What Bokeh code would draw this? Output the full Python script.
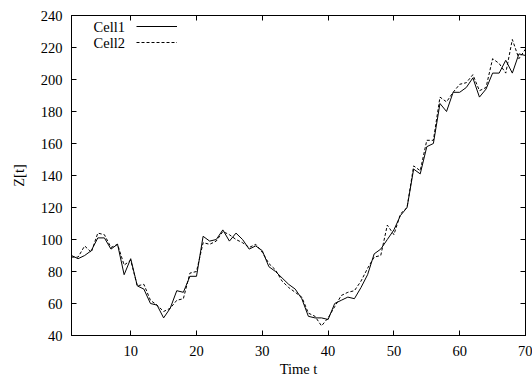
from bokeh.plotting import figure
from bokeh.models import (FixedTicker, LinearAxis, Legend, LegendItem, Label,
                          Range1d, GlobalInlineStyleSheet)
from bokeh.embed import file_html
from bokeh.resources import INLINE

# ---- data ----
t = list(range(1, 71))
cell1 = [90, 88, 90, 93, 101, 101, 94, 97, 78, 88,
         71, 69, 60, 59, 51, 57, 68, 67, 77, 77,
         102, 99, 100, 106, 99, 104, 100, 94, 96, 93,
         83, 80, 76, 72, 69, 63, 52, 51, 51, 50,
         60, 62, 64, 63, 70, 78, 91, 94, 100, 106,
         115, 120, 144, 141, 158, 160, 185, 180, 192, 192,
         195, 201, 189, 194, 204, 204, 212, 204, 216, 215]
cell2 = [89, 89, 96, 92, 104, 103, 95, 97, 84, 87,
         71, 72, 62, 59, 55, 57, 62, 63, 79, 80,
         98, 97, 99, 105, 103, 100, 98, 95, 97, 92,
         85, 81, 74, 70, 67, 64, 54, 52, 46, 51,
         58, 65, 67, 68, 74, 82, 89, 90, 109, 103,
         116, 120, 146, 143, 162, 162, 189, 186, 192, 197,
         198, 203, 193, 195, 213, 210, 204, 225, 213, 219]
series_names = ["Cell1", "Cell2"]
x_ticks = [10, 20, 30, 40, 50, 60, 70]
y_ticks = [40, 60, 80, 100, 120, 140, 160, 180, 200, 220, 240]

FONT = "Liberation Serif"
FS = "14.5px"

p = figure(width=532, height=382, output_backend="svg", toolbar_location=None,
           x_range=Range1d(1, 70), y_range=Range1d(40, 240),
           min_border_left=71, min_border_right=7, min_border_top=15,
           min_border_bottom=47,
           x_axis_label="Time t", y_axis_label="Z[t]")
p.stylesheets = [GlobalInlineStyleSheet(css="html, body { overflow: hidden; }")]
p.xgrid.visible = False
p.ygrid.visible = False
p.background_fill_color = "white"
p.border_fill_color = "white"
p.outline_line_color = "black"
p.outline_line_width = 1

def style_axis(ax, ticks, labels=True):
    ax.ticker = FixedTicker(ticks=ticks)
    ax.major_tick_in = 5
    ax.major_tick_out = 0
    ax.minor_tick_line_color = None
    ax.axis_line_color = "black"
    ax.major_tick_line_color = "black"
    if labels:
        ax.major_label_text_font = FONT
        ax.major_label_text_font_size = FS
        ax.major_label_text_color = "black"
        ax.axis_label_text_font = FONT
        ax.axis_label_text_font_size = FS
        ax.axis_label_text_font_style = "normal"
        ax.axis_label_text_color = "black"
    else:
        ax.major_label_text_font_size = "1px"
        ax.major_label_text_color = None
        ax.major_label_standoff = 0

xb = p.xaxis[0]
style_axis(xb, x_ticks)
xb.major_label_standoff = 10
xb.axis_label_standoff = 2

yl = p.yaxis[0]
style_axis(yl, y_ticks)
yl.major_label_standoff = 9
yl.axis_label_standoff = 11

xt = LinearAxis()
style_axis(xt, x_ticks, labels=False)
p.add_layout(xt, "above")
yr = LinearAxis()
style_axis(yr, y_ticks, labels=False)
p.add_layout(yr, "right")

r1 = p.line(t, cell1, line_color="black", line_width=1)
r2 = p.line(t, cell2, line_color="black", line_width=1, line_dash="3 2")

legend = Legend(items=[LegendItem(label="", renderers=[r1]),
                       LegendItem(label="", renderers=[r2])],
                location=(64.5, 284.7), margin=0, padding=0, spacing=0,
                glyph_width=41, glyph_height=16, label_width=0, label_height=16,
                label_standoff=0, label_text_font_size="10px",
                border_line_color=None, background_fill_alpha=0)
p.add_layout(legend, "center")

for i, name in enumerate(series_names):
    p.add_layout(Label(x=53.5, y=308.7 - 16 * i, x_units="screen", y_units="screen",
                       text=name, text_align="right", text_baseline="middle",
                       text_font=FONT, text_font_size=FS, text_color="black"))

open("out.html", "w").write(file_html(p, INLINE))
